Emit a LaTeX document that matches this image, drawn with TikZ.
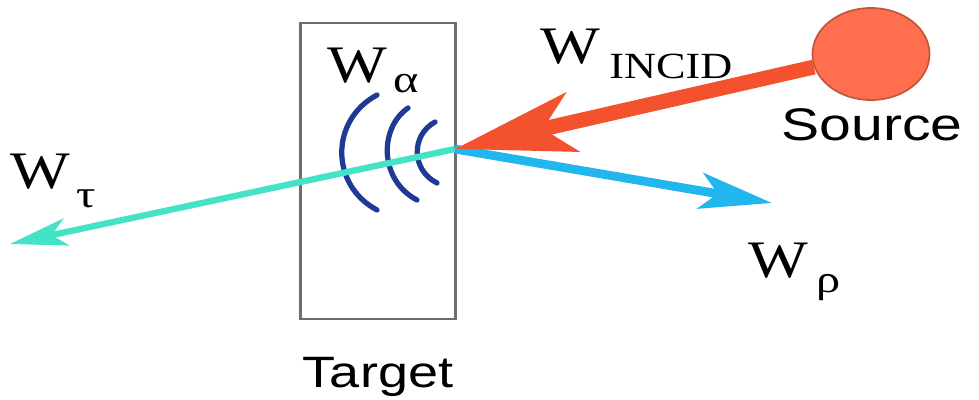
\documentclass[tikz,border=0pt]{standalone}
\usepackage{fontspec}
\usepackage{graphicx}
\setmainfont{Liberation Serif}
\newfontfamily\labsans{Liberation Sans}
\usetikzlibrary{arrows.meta,shapes.geometric}
\definecolor{incred}{HTML}{F4512F}
\definecolor{srcfill}{HTML}{FF6F4E}
\definecolor{srcline}{HTML}{C4563E}
\definecolor{reflblue}{HTML}{22B6EE}
\definecolor{transcyan}{HTML}{44E2C6}
\definecolor{arcblue}{HTML}{1F3A94}
\definecolor{boxgray}{HTML}{6E6E6E}
\newcommand{\wide}[2]{\scalebox{#1}[1]{#2}}
\tikzset{
  lab/.style={inner sep=0pt, anchor=base west},
  bigw/.style={lab, font=\fontsize{30}{30}\selectfont},
  greek/.style={lab, font=\fontsize{22}{22}\selectfont},
  subcap/.style={lab, font=\fontsize{21}{21}\selectfont},
  sanslab/.style={inner sep=0pt, anchor=base, font=\labsans\fontsize{25}{25}\selectfont},
  wavearc/.style={draw=arcblue, line width=3pt, line cap=round},
}
\begin{document}
\begin{tikzpicture}[x=0.02cm, y=-0.02cm]
\useasboundingbox (0,0) rectangle (979,399);
% target box
\node[draw=boxgray, line width=1.7pt, minimum width=155*0.02cm, minimum height=296*0.02cm, inner sep=0pt] (target) at (378,171) {};
\node[sanslab] (targetlab) at (378,387) {\wide{1.23}{Target}};
% source
\node[ellipse, fill=srcfill, draw=srcline, line width=1pt, minimum width=117*0.02cm, minimum height=92*0.02cm, inner sep=0pt] (src) at (871,54) {};
\node[sanslab, font=\labsans\fontsize{26}{26}\selectfont] (srclab) at (872,140) {\wide{1.25}{Source}};
% impact point and free ends
\coordinate (hit) at (455,149);
\coordinate (reflend) at (772,203);
\coordinate (transend) at (10,244);
% wave arcs
\draw[wavearc] (377,95) .. controls (330,120) and (330,185) .. (377,210);
\draw[wavearc] (408,108) .. controls (379,128) and (379,180) .. (417,200);
\draw[wavearc] (435,122) .. controls (411,135) and (411,170) .. (437,183);
% transmitted
\draw[transcyan, line width=3.6pt, -{Stealth[length=1.15cm, width=0.55cm, inset=0.3cm]}] (hit) -- (transend);
% reflected
\draw[reflblue, line width=5pt, -{Stealth[length=1.45cm, width=0.72cm, inset=0.35cm]}] (hit) -- (reflend);
% incident
\draw[incred, line width=8.5pt, -{Stealth[length=2.4cm, width=1.2cm, inset=0.6cm]}] (src) -- (hit);
% labels
\node[bigw] (walpha) at (327,82) {\wide{1.2}{W}};
\node[greek] (alpha) at (393,92) {\wide{1.25}{α}};
\node[bigw] (winc) at (540,63) {\wide{1.2}{W}};
\node[subcap] (incid) at (609,78) {\wide{1.2}{INCID}};
\node[bigw] (wtau) at (10,188) {\wide{1.2}{W}};
\node[greek] (tau) at (76,207) {\wide{1.25}{τ}};
\node[bigw] (wrho) at (748,277) {\wide{1.2}{W}};
\node[greek] (rho) at (816,292) {\wide{1.25}{ρ}};
\end{tikzpicture}
\end{document}
